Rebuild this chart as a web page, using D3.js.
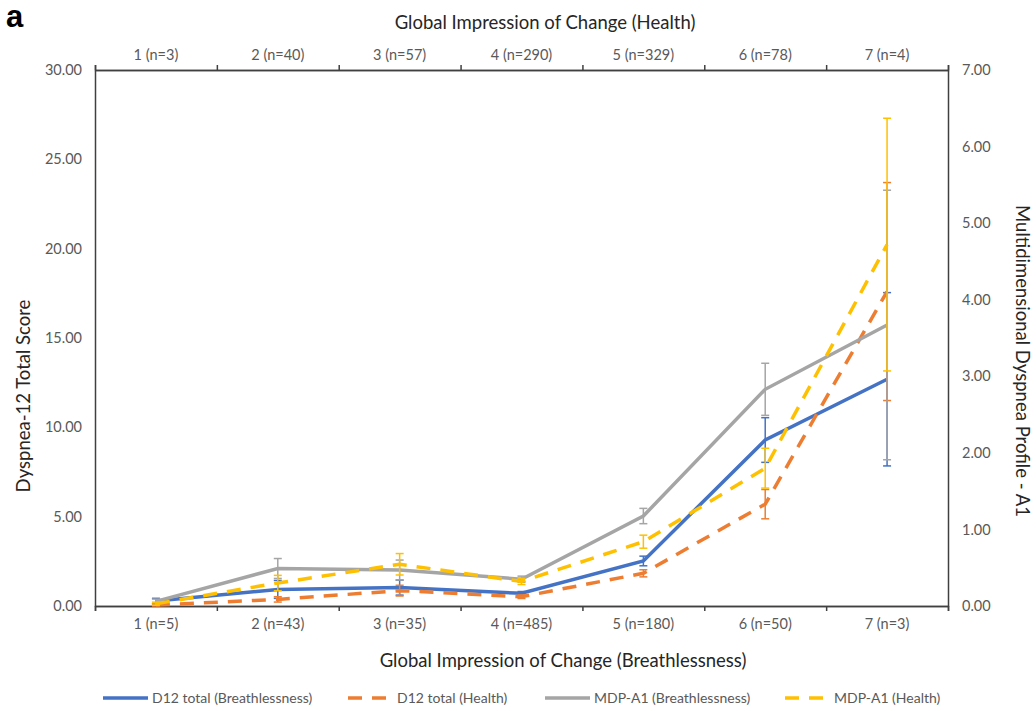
<!DOCTYPE html>
<html>
<head>
<meta charset="utf-8">
<script src="https://cdn.jsdelivr.net/npm/d3@7"></script>
<style>
  body { margin: 0; background: #fff; }
  svg { display: block; font-family: Lato, "Open Sans", sans-serif; }
</style>
</head>
<body>
<div id="chart"></div>
<script>
const breathCats = ["1 (n=5)", "2 (n=43)", "3 (n=35)", "4 (n=485)", "5 (n=180)", "6 (n=50)", "7 (n=3)"];
const healthCats = ["1 (n=3)", "2 (n=40)", "3 (n=57)", "4 (n=290)", "5 (n=329)", "6 (n=78)", "7 (n=4)"];

// D12 total score, left axis
const d12Breath = [0.28, 0.93, 1.03, 0.71, 2.52, 9.29, 12.69];
const d12BreathErr = [0.15, 0.5, 0.42, 0.1, 0.27, 1.25, 4.85];
const d12Health = [0.05, 0.37, 0.86, 0.52, 1.83, 5.7, 17.6];
const d12HealthErr = [0.05, 0.15, 0.3, 0.1, 0.2, 0.82, 6.1];

// MDP-A1, right axis
const mdpBreath = [0.06, 0.49, 0.47, 0.35, 1.175, 2.83, 3.67];
const mdpBreathErr = [0.03, 0.13, 0.13, 0.04, 0.1, 0.34, 1.76];
const mdpHealth = [0.03, 0.30, 0.545, 0.32, 0.84, 1.80, 4.72];
const mdpHealthErr = [0.02, 0.1, 0.14, 0.04, 0.085, 0.26, 1.65];

const leftTicks = [0, 5, 10, 15, 20, 25, 30];
const rightTicks = [0, 1, 2, 3, 4, 5, 6, 7];

const width = 1036, height = 711;
const margin = {top: 70, right: 88, bottom: 105, left: 95};

const svg = d3.select("#chart").append("svg")
    .attr("width", width)
    .attr("height", height);

const x = d3.scaleBand()
    .domain(d3.range(7))
    .range([margin.left, width - margin.right]);
const xEdge = d3.scaleLinear()
    .domain([0, 7])
    .range([margin.left, width - margin.right]);
const yL = d3.scaleLinear().domain([0, 30]).range([height - margin.bottom, margin.top]);
const yR = d3.scaleLinear().domain([0, 7]).range([height - margin.bottom, margin.top]);

const axisColor = "#404040";
const tickColor = "#595959";
const titleSize = "18.5px";

// axes
svg.append("g")
    .attr("transform", "translate(" + margin.left + ",0)")
    .call(d3.axisLeft(yL).tickValues(leftTicks).tickSize(0).tickPadding(13).tickFormat(d3.format(".2f")));
svg.append("g")
    .attr("transform", "translate(" + (width - margin.right) + ",0)")
    .call(d3.axisRight(yR).tickValues(rightTicks).tickSize(0).tickPadding(14).tickFormat(d3.format(".2f")));
svg.append("g")
    .attr("transform", "translate(0," + (height - margin.bottom) + ")")
    .call(d3.axisBottom(x).tickSize(0).tickPadding(13).tickFormat(i => breathCats[i]));
svg.append("g")
    .attr("transform", "translate(0," + margin.top + ")")
    .call(d3.axisTop(x).tickSize(0).tickPadding(10).tickFormat(i => healthCats[i]));

svg.append("g")
    .attr("transform", "translate(0," + (height - margin.bottom) + ")")
    .call(d3.axisBottom(xEdge).ticks(7).tickSize(5).tickFormat(""));
svg.append("g")
    .attr("transform", "translate(0," + margin.top + ")")
    .call(d3.axisTop(xEdge).ticks(7).tickSize(5).tickFormat(""));

svg.selectAll(".domain").attr("stroke", axisColor).attr("stroke-width", 1.5);
svg.selectAll(".tick line").attr("stroke", axisColor).attr("stroke-width", 1.5);
svg.selectAll(".tick text").attr("fill", tickColor).style("font-size", "14.5px").style("font-family", "Lato, sans-serif");

// series
const series = [
  {name: "D12 total (Breathlessness)", values: d12Breath, err: d12BreathErr, y: yL, color: "#4472C4", dash: null},
  {name: "D12 total  (Health)", values: d12Health, err: d12HealthErr, y: yL, color: "#ED7D31", dash: "14,10"},
  {name: "MDP-A1 (Breathlessness)", values: mdpBreath, err: mdpBreathErr, y: yR, color: "#A5A5A5", dash: null},
  {name: "MDP-A1 (Health)", values: mdpHealth, err: mdpHealthErr, y: yR, color: "#FFC000", dash: "14,10"}
];

const cx = i => x(i) + x.bandwidth() / 2;

series.forEach(s => {
  const g = svg.append("g");
  const line = d3.line()
      .x((d, i) => cx(i))
      .y(d => s.y(d));
  g.append("path")
      .datum(s.values)
      .attr("fill", "none")
      .attr("stroke", s.color)
      .attr("stroke-width", 3.5)
      .attr("stroke-dasharray", s.dash)
      .attr("d", line);

  const eb = g.selectAll(".eb")
      .data(s.values.map((v, i) => ({i, lo: v - s.err[i], hi: v + s.err[i]})))
      .join("g")
      .attr("stroke", s.color)
      .attr("stroke-width", 1.5);
  eb.append("line")
      .attr("x1", d => cx(d.i)).attr("x2", d => cx(d.i))
      .attr("y1", d => s.y(d.lo)).attr("y2", d => s.y(d.hi));
  eb.append("line")
      .attr("x1", d => cx(d.i) - 4).attr("x2", d => cx(d.i) + 4)
      .attr("y1", d => s.y(d.hi)).attr("y2", d => s.y(d.hi));
  eb.append("line")
      .attr("x1", d => cx(d.i) - 4).attr("x2", d => cx(d.i) + 4)
      .attr("y1", d => s.y(d.lo)).attr("y2", d => s.y(d.lo));
});

// titles
svg.append("text")
    .attr("x", 545).attr("y", 28.5)
    .attr("text-anchor", "middle")
    .attr("fill", "#262626")
    .style("font-size", titleSize)
    .text("Global Impression of Change (Health)");
svg.append("text")
    .attr("x", 563).attr("y", 666.5)
    .attr("text-anchor", "middle")
    .attr("fill", "#262626")
    .style("font-size", titleSize)
    .text("Global Impression of Change (Breathlessness)");
svg.append("text")
    .attr("transform", "translate(30,396) rotate(-90)")
    .attr("text-anchor", "middle")
    .attr("fill", "#262626")
    .style("font-size", titleSize)
    .text("Dyspnea-12 Total Score");
svg.append("text")
    .attr("transform", "translate(1016,361) rotate(90)")
    .attr("text-anchor", "middle")
    .attr("fill", "#262626")
    .style("font-size", titleSize)
    .text("Multidimensional Dyspnea Profile - A1");
svg.append("text")
    .attr("x", 6).attr("y", 27)
    .attr("fill", "#000")
    .style("font-family", "Liberation Sans, Arial, sans-serif")
    .style("font-weight", "bold")
    .style("font-size", "31px")
    .text("a");

// legend
const legendX = [103, 348, 545, 785];
const legend = svg.append("g").attr("transform", "translate(0,698)");
series.forEach((s, k) => {
  legend.append("line")
      .attr("x1", legendX[k]).attr("x2", legendX[k] + 45)
      .attr("stroke", s.color)
      .attr("stroke-width", 3.5)
      .attr("stroke-dasharray", s.dash);
  legend.append("text")
      .attr("x", legendX[k] + 49).attr("y", 5)
      .attr("fill", tickColor)
      .style("font-size", "14px")
      .text(s.name);
});
</script>
</body>
</html>
